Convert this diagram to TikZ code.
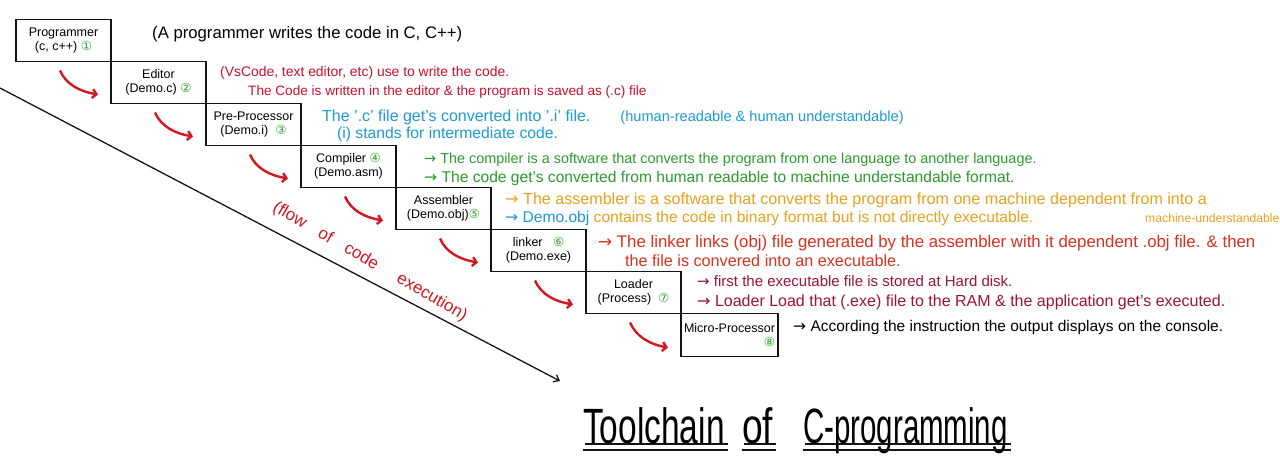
\documentclass[tikz,border=0pt]{standalone}
\usepackage{fontspec}
\setmainfont{Liberation Sans}
\newfontfamily\symfont{DejaVu Sans}
\usepackage{tikz}
\usetikzlibrary{arrows.meta,positioning,calc}
\usepackage{xcolor}
\usepackage{graphicx}
\definecolor{Ink}{HTML}{141414}
\definecolor{FlowRed}{HTML}{D4161E}
\definecolor{NoteRed}{HTML}{C8102E}
\definecolor{NoteBlue}{HTML}{1E9AD6}
\definecolor{NoteGreen}{HTML}{2E9A2E}
\definecolor{NoteOrange}{HTML}{E8A11C}
\definecolor{NoteRust}{HTML}{D9321C}
\definecolor{NoteWine}{HTML}{A0123C}
\definecolor{StepGreen}{HTML}{2DA02D}
\newcommand{\toarr}{{\symfont\char"2192}\ }
\newcommand{\stepno}[1]{{\symfont\fontsize{12.5}{12.5}\selectfont\color{StepGreen}#1}}

\begin{document}
\begin{tikzpicture}[x=1pt,y=-1pt,
  stepbox/.style={draw=Ink,line width=1.6pt,minimum width=95pt,minimum height=42pt,inner sep=1pt,outer sep=0pt,align=center,font=\fontsize{12.5}{14}\selectfont},
  note/.style={anchor=base west,inner sep=0pt,font=\fontsize{#1}{16}\selectfont},
  note/.default=14,
  flow/.style={FlowRed,line width=2.4pt,-{Straight Barb[length=4pt,width=9pt]}},
  titleword/.style={anchor=base west,inner sep=0pt,font=\fontsize{31}{31}\selectfont},
  wordline/.style={Ink,line width=1.1pt}]
\fill[white] (0,0) rectangle (1280,464);
\useasboundingbox (0,0) rectangle (1280,464);

% the steps
\node[stepbox] (prog) at (63.5,40.5) {Programmer\\(c, c++)~\stepno{①}};
\node[stepbox,anchor=north west] (editor) at (prog.south east) {Editor\\(Demo.c)~\stepno{②}};
\node[stepbox,anchor=north west] (pre) at (editor.south east) {Pre-Processor\\(Demo.i)~~\stepno{③}};
\node[stepbox,anchor=north west] (comp) at (pre.south east) {Compiler~\stepno{④}\\(Demo.asm)};
\node[stepbox,anchor=north west] (asm) at (comp.south east) {Assembler\\(Demo.obj)\stepno{⑤}};
\node[stepbox,anchor=north west] (link) at (asm.south east) {linker~~~\stepno{⑥}\\(Demo.exe)};
\node[stepbox,anchor=north west] (load) at (link.south east) {Loader\\(Process)~~\stepno{⑦}};
\node[stepbox,anchor=north west,minimum width=97pt,minimum height=43pt,align=right] (micro) at (load.south east) {Micro-Processor\\\stepno{⑧}~};

% red arrows from step to step
\foreach \a/\b in {prog/editor,editor/pre,pre/comp,comp/asm,asm/link,link/load,load/micro}
  \draw[flow] ($(\a.south west)+(44,9)$) .. controls +(6,14) and +(-18,-3) .. ($(\b.south west)+(-13,-9)$);

% flow of execution
\coordinate (flowtop) at (0,88);
\coordinate (flowtip) at (560,381);
\draw[Ink,line width=1.3pt,-{Straight Barb[length=5pt,width=8pt]}] (flowtop) -- (flowtip);
\node[FlowRed,rotate=-30,inner sep=0pt,font=\fontsize{17}{17}\selectfont] (flowtext) at (370,262) {(flow\hspace{16pt}of\hspace{16pt}code\hspace{24pt}execution)};

% notes
\node[note=16.7] (n1) at (152,38) {(A programmer writes the code in C, C++)};
\node[note=13.9,NoteRed] (n2a) at (220,76) {(VsCode, text editor, etc) use to write the code.};
\node[note=13.6,NoteRed] (n2b) at (248,95) {The Code is written in the editor \& the program is saved as (.c) file};
\node[note=16,NoteBlue] (n3a) at (322,121) {The '.c' file get's converted into '.i' file.\hspace{30pt}{\fontsize{14.6}{16}\selectfont(human-readable \& human understandable)}};
\node[note=15.7,NoteBlue] (n3b) at (337,138) {(i) stands for intermediate code.};
\node[note=14.4,NoteGreen] (n4a) at (424,163) {\toarr The compiler is a software that converts the program from one language to another language.};
\node[note=15.6,NoteGreen] (n4b) at (424,182) {\toarr The code get's converted from human readable to machine understandable format.};
\node[note=16.1,NoteOrange] (n5a) at (505,204) {\toarr The assembler is a software that converts the program from one machine dependent from into a};
\node[note=15.6,NoteOrange] (n5b) at (505,222) {{\color{NoteBlue}\toarr Demo.obj} contains the code in binary format but is not directly executable.};
\node[note=12.2,NoteOrange] (n5c) at (1145,222) {machine-understandable};
\node[note=16.8,NoteRust] (n6a) at (598,247) {\toarr The linker links (obj) file generated by the assembler with it dependent .obj file. \& then};
\node[note=16.2,NoteRust] (n6b) at (625,266) {the file is convered into an executable.};
\node[note=15,NoteWine] (n7a) at (697,286) {\toarr first the executable file is stored at Hard disk.};
\node[note=16,NoteWine] (n7b) at (697,306) {\toarr Loader Load that (.exe) file to the RAM \& the application get's executed.};
\node[note=15.5] (n8) at (793,331) {\toarr According the instruction the output displays on the console.};

% title
\node[titleword] (word1) at (583,443) {\scalebox{1.08}[1.6]{Toolchain}};
\node[titleword] (word2) at (742,443) {\scalebox{1.2}[1.6]{of}};
\node[titleword] (word3) at (803,443) {\scalebox{0.95}[1.6]{C-programming}};
\foreach \w in {word1,word2,word3} {
  \draw[wordline] ($(\w.base west)+(2,1)$) -- ($(\w.base east)+(3,1)$);
  \draw[wordline] ($(\w.base west)+(0,7)$) -- ($(\w.base east)+(3,7)$);
}
\end{tikzpicture}
\end{document}
